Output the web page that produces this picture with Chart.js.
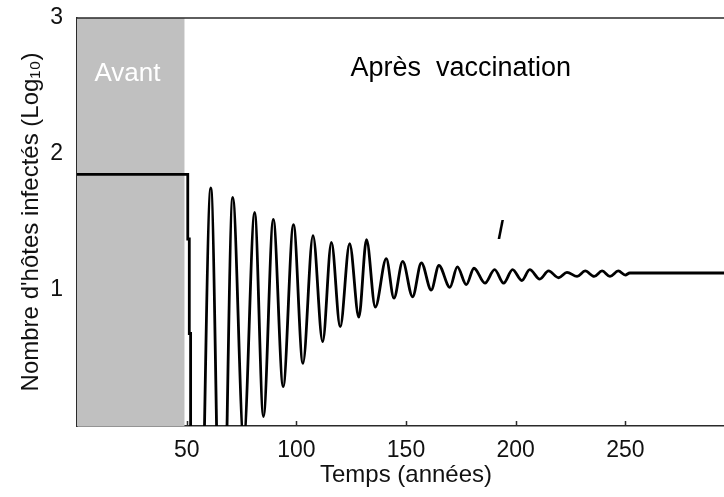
<!DOCTYPE html>
<html lang="fr">
<head>
<meta charset="utf-8">
<title>Nombre d'hôtes infectés</title>
<script src="https://cdn.jsdelivr.net/npm/chart.js@4.4.1/dist/chart.umd.min.js"></script>
<style>
  html, body { margin: 0; padding: 0; background: #fff; overflow: hidden; }
  #wrap { width: 742px; height: 497px; }
</style>
</head>
<body>
<div id="wrap"><canvas id="chart" width="742" height="497"></canvas></div>
<script>
// ---------- data ----------
// before vaccination: flat endemic level, then the stepped drop at year ~50
const beforeYears  = [0, 50.5, 50.5, 51.2, 51.2, 51.8, 51.8];
const beforeLevels = [1.85, 1.85, 1.375, 1.375, 0.68, 0.68, -0.6];

// after vaccination: peaks / troughs of the damped oscillation
const afterYears = [51.8, 55, 61, 66, 71, 76, 81, 85, 89.5, 94, 98.7, 103, 107.6, 112,
  116, 120, 124.3, 128.5, 132, 136, 141, 144.5, 148.5, 153, 157, 161.5, 165, 170,
  173.4, 177.5, 181, 186, 190.4, 194.5, 198.6, 202.8, 206.4, 211, 215, 219.6, 223.4,
  228, 231.7, 235.8, 239.4, 243, 246.8, 250, 252, 300];
const afterLevels = [-0.6, -2, 1.75, -1.5, 1.68, -0.1, 1.57, 0.07, 1.52, 0.29, 1.48, 0.46, 1.40, 0.62,
  1.35, 0.73, 1.34, 0.80, 1.37, 0.875, 1.23, 0.94, 1.21, 0.95, 1.20, 1.00, 1.18, 1.02,
  1.17, 1.04, 1.16, 1.05, 1.15, 1.05, 1.15, 1.07, 1.15, 1.08, 1.14, 1.09, 1.13,
  1.10, 1.14, 1.10, 1.14, 1.10, 1.14, 1.11, 1.125, 1.125];

const xTicks = [50, 100, 150, 200, 250];
const yTicks = [1, 2, 3];

const shadeEnd = 49;   // end of the grey "Avant" band (years)

const FONT = "'Liberation Sans', Arial, sans-serif";

function toPoints(xs, ys) {
  return xs.map((x, i) => ({ x: x, y: ys[i] }));
}

// ---------- decorations: grey band, frame, inner ticks, labels ----------
const decorPlugin = {
  id: 'decor',
  beforeDatasetsDraw(chart) {
    const { ctx, chartArea: a, scales: { x, y } } = chart;
    ctx.save();
    ctx.fillStyle = '#c0c0c0';
    const x1 = x.getPixelForValue(shadeEnd);
    ctx.fillRect(a.left, a.top, x1 - a.left, a.bottom - a.top);

    ctx.font = '26px ' + FONT;
    ctx.textAlign = 'center';
    ctx.textBaseline = 'alphabetic';
    ctx.fillStyle = '#ffffff';
    ctx.fillText('Avant', x.getPixelForValue(23), y.getPixelForValue(2.54));

    ctx.font = '27px ' + FONT;
    ctx.fillStyle = '#000000';
    ctx.fillText('Après  vaccination', x.getPixelForValue(175), y.getPixelForValue(2.57));

    ctx.font = 'italic 28px ' + FONT;
    ctx.textBaseline = 'middle';
    ctx.fillText('I', x.getPixelForValue(193), y.getPixelForValue(1.43));
    ctx.restore();
  },
  afterDraw(chart) {
    const { ctx, chartArea: a, scales: { x } } = chart;
    ctx.save();
    ctx.strokeStyle = '#2a2a2a';
    ctx.lineWidth = 1.5;
    ctx.beginPath();
    ctx.moveTo(a.left, a.top);
    ctx.lineTo(a.right, a.top);
    xTicks.forEach(v => {
      const px = Math.round(x.getPixelForValue(v)) + 0.5;
      ctx.moveTo(px, a.bottom);
      ctx.lineTo(px, a.bottom - 5);
    });
    ctx.stroke();
    ctx.restore();
  }
};

new Chart(document.getElementById('chart'), {
  type: 'line',
  data: {
    datasets: [
      {
        data: toPoints(beforeYears, beforeLevels),
        borderColor: '#000',
        borderWidth: 2.8,
        pointRadius: 0,
        tension: 0,
        clip: 0
      },
      {
        data: toPoints(afterYears, afterLevels),
        borderColor: '#000',
        borderWidth: 2.8,
        pointRadius: 0,
        cubicInterpolationMode: 'monotone',
        clip: 0
      }
    ]
  },
  options: {
    responsive: false,
    animation: false,
    events: [],
    layout: { padding: { top: 18, right: 7, left: 0, bottom: 0 } },
    plugins: { legend: { display: false }, tooltip: { enabled: false } },
    scales: {
      x: {
        type: 'linear',
        min: 0,
        max: 300,
        afterBuildTicks: s => { s.ticks = xTicks.map(v => ({ value: v })); },
        afterFit: s => { s.height = 71; s.paddingLeft = 0; s.paddingRight = 0; },
        grid: { display: true, drawOnChartArea: false, drawTicks: false },
        border: { display: true, color: '#2a2a2a', width: 1.5 },
        ticks: { color: '#111', font: { family: FONT, size: 23 }, padding: 11, maxRotation: 0 },
        title: {
          display: true,
          text: 'Temps (années)',
          color: '#111',
          font: { family: FONT, size: 24 },
          padding: { top: 0, bottom: 7 }
        }
      },
      y: {
        min: 0,
        max: 3,
        afterBuildTicks: s => { s.ticks = yTicks.map(v => ({ value: v })); },
        afterFit: s => { s.width = 77; s.paddingTop = 0; s.paddingBottom = 0; },
        grid: { display: true, drawOnChartArea: false, drawTicks: false },
        border: { display: true, color: '#2a2a2a', width: 1.5 },
        ticks: { color: '#111', font: { family: FONT, size: 23 }, padding: 14 },
        title: {
          display: true,
          text: "Nombre d'hôtes infectés (Log₁₀)",
          color: '#111',
          font: { family: FONT, size: 24 },
          padding: { top: 17, bottom: 0 }
        }
      }
    }
  },
  plugins: [decorPlugin]
});
</script>
</body>
</html>
